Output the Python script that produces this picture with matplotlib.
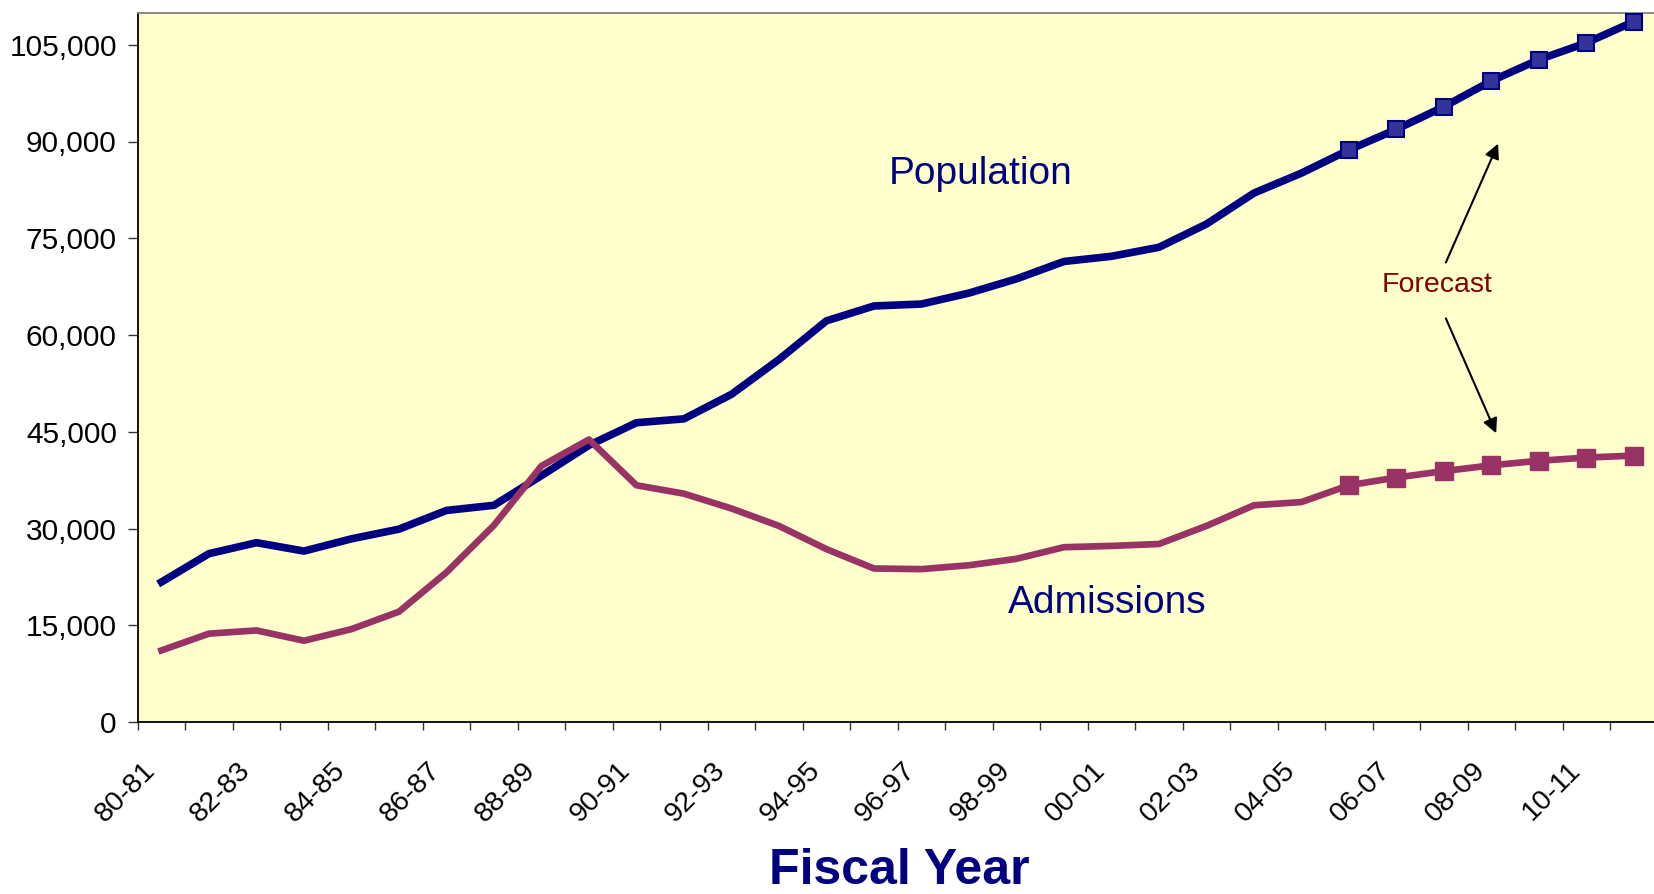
import numpy as np
import matplotlib.pyplot as plt
import matplotlib.transforms as mtransforms

plt.rcParams['font.family'] = ['Liberation Sans', 'DejaVu Sans']

# fiscal years 80-81 .. 11-12
years = ['80-81', '81-82', '82-83', '83-84', '84-85', '85-86', '86-87', '87-88',
         '88-89', '89-90', '90-91', '91-92', '92-93', '93-94', '94-95', '95-96',
         '96-97', '97-98', '98-99', '99-00', '00-01', '01-02', '02-03', '03-04',
         '04-05', '05-06', '06-07', '07-08', '08-09', '09-10', '10-11', '11-12']

population = [21700, 26100, 27800, 26500, 28400, 29900, 32800, 33600,
              38200, 42900, 46400, 47000, 50800, 56200, 62200, 64500,
              64800, 66500, 68700, 71400, 72200, 73600, 77200, 82000,
              85100, 88700, 91900, 95400, 99400, 102700, 105300, 108600]

admissions = [11100, 13700, 14200, 12600, 14400, 17100, 23200, 30500,
              39700, 43800, 36700, 35400, 33100, 30400, 26800, 23800,
              23700, 24300, 25300, 27100, 27300, 27600, 30400, 33600,
              34100, 36700, 37900, 38900, 39800, 40500, 41000, 41300]

forecast_start = 25  # first forecast year (05-06)

W, H = 1654, 894
fig = plt.figure(figsize=(W / 100, H / 100), dpi=100)
ax = fig.add_axes([137.7 / W, 1 - 722 / H, (1657.7 - 137.7) / W, (722 - 12.5) / H])
ax.set_facecolor('#FFFFCC')

x = np.arange(len(years))
fc = list(range(forecast_start, len(years)))

ax.plot(x, population, color='#000080', lw=5.5, solid_joinstyle='round',
        marker='s', markevery=fc, ms=12, mfc='#333399', mec='#000080', mew=1.5, zorder=3)
ax.plot(x, admissions, color='#993366', lw=4.8, solid_joinstyle='round',
        marker='s', markevery=fc, ms=13, mfc='#993366', mec='#993366', mew=1, zorder=3)

ax.set_xlim(-0.5, len(years) - 0.5)
ax.set_ylim(0, 110000)

# y axis
ax.set_yticks(np.arange(0, 105001, 15000))
ax.set_yticklabels([f'{v:,}' for v in range(0, 105001, 15000)])
ax.tick_params(axis='y', direction='out', length=7, width=1, color='#333333',
               labelsize=21.5, pad=8)

# x axis: labels every other year, ticks on category boundaries
ax.set_xticks(x[::2])
ax.set_xticklabels(years[::2], rotation=45, ha='right', va='center',
                   rotation_mode='anchor')
ax.set_xticks(np.arange(-0.5, len(years)), minor=True)
ax.tick_params(axis='x', which='major', length=0, labelsize=20.5, pad=32)
ax.tick_params(axis='x', which='minor', direction='out', length=6, width=1, color='#333333')
off = mtransforms.ScaledTranslation(-10 / 100, 0, fig.dpi_scale_trans)
for lab in ax.get_xticklabels():
    lab.set_transform(lab.get_transform() + off)

for s in ['left', 'bottom']:
    ax.spines[s].set_color('black')
    ax.spines[s].set_linewidth(1.3)
ax.spines['top'].set_color('#808080')
ax.spines['top'].set_linewidth(1.3)
ax.spines['right'].set_visible(False)

# labels
ax.text(17.25, 83470, 'Population', color='#000080', fontsize=28, ha='center', va='baseline')
ax.text(19.91, 16880, 'Admissions', color='#000080', fontsize=28, ha='center', va='baseline')
ax.text(26.85, 66590, 'Forecast', color='#800000', fontsize=20.5, ha='center', va='baseline')

arrow = dict(arrowstyle='-|>', color='black', lw=1.5, mutation_scale=22, shrinkA=0, shrinkB=0)
ax.annotate('', xy=(28.14, 89670), xytext=(27.04, 71240), arrowprops=arrow)
ax.annotate('', xy=(28.10, 44760), xytext=(27.04, 62570), arrowprops=arrow)

fig.text(899 / W, 1 - 884 / H, 'Fiscal Year', color='#000080', fontsize=36,
         fontweight='bold', ha='center', va='baseline')

fig.savefig('out.png', dpi=100)
